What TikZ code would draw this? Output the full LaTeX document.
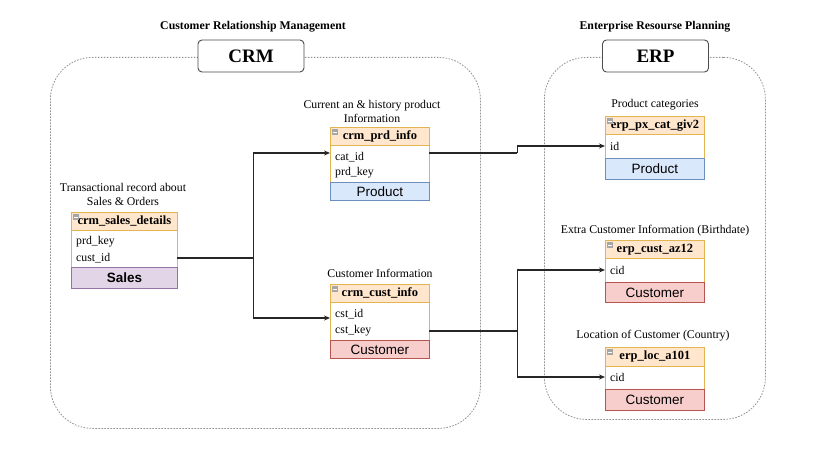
\documentclass[tikz,border=0pt]{standalone}
\usepackage{fontspec}
\setmainfont{Liberation Serif}
\setsansfont{Liberation Sans}
\usetikzlibrary{arrows.meta,calc}
\definecolor{hdrfill}{HTML}{FFE6CC}
\definecolor{tline}{HTML}{E3B552}
\definecolor{salesfill}{HTML}{E1D5E7}
\definecolor{salesline}{HTML}{9673A6}
\definecolor{prodfill}{HTML}{DAE8FC}
\definecolor{prodline}{HTML}{6C8EBF}
\definecolor{custfill}{HTML}{F8CECC}
\definecolor{custline}{HTML}{B85450}
\tikzset{
  cont/.style={draw=gray!85, dash pattern=on 1.6pt off 1.4pt, line width=0.8pt, rounded corners=42pt, anchor=north west, inner sep=0},
  sysbox/.style={draw=black!70, fill=white, rounded corners=4pt, line width=0.9pt, minimum width=106pt, minimum height=32pt, inner sep=0, font=\bfseries\fontsize{19}{22}\selectfont},
  ttl/.style={font=\bfseries\fontsize{11.8}{13}\selectfont, inner sep=0},
  lbl/.style={font=\fontsize{11.8}{14}\selectfont, align=center, inner sep=0},
  tbody/.style={draw=tline, fill=white, line width=0.8pt, anchor=north west, inner sep=0},
  hdr/.style={draw=tline, fill=hdrfill, line width=0.8pt, anchor=north west, minimum height=18pt, inner sep=0, font=\bfseries\fontsize{12.5}{13}\selectfont},
  row/.style={anchor=west, inner xsep=5pt, inner ysep=0, minimum height=16pt, align=left, font=\fontsize{11.8}{13}\selectfont},
  foot/.style={anchor=north west, inner sep=0, line width=0.8pt, font=\sffamily\fontsize{13.5}{15}\selectfont},
  conn/.style={draw=black!85, line width=1.2pt, -{Stealth[length=6pt,width=5pt]}},
  line/.style={draw=black!85, line width=1.2pt}
}
\newcommand\minusicon[2]{\fill[gray!70] (#1+2,#2+2) rectangle (#1+8,#2+8); \draw[white, line width=0.6pt] (#1+3.2,#2+5) -- (#1+6.8,#2+5);}
\begin{document}
\begin{tikzpicture}[x=1pt,y=-1pt]
\useasboundingbox[fill=white] (0,0) rectangle (827,460);

% containers
\node[cont, minimum width=430pt, minimum height=371pt] (crm) at (50,57) {};
\node[cont, minimum width=221pt, minimum height=362pt] (erp) at (544,57) {};
\node[sysbox] (crmbox) at (251,56) {CRM};
\node[sysbox] (erpbox) at (655.5,56) {ERP};
\node[ttl] (crmt) at (253,27) {Customer Relationship Management};
\node[ttl] (erpt) at (655,27) {Enterprise Resourse Planning};

% crm_sales_details
\node[lbl] (salesl) at (123,194) {Transactional record about\\Sales \& Orders};
\node[tbody, minimum width=106pt, minimum height=55pt] (sales) at (71,212) {};
\node[hdr, minimum width=106pt] (salesh) at (71,212) {crm\_sales\_details};
\minusicon{71}{212}
\node[row, text width=96pt] (salesr1) at (71,242) {prd\_key};
\node[row, text width=96pt] (salesr2) at (71,258) {cust\_id};
\node[foot, fill=salesfill, draw=salesline, minimum width=106pt, minimum height=21pt] (salesf) at (71,267) {\textbf{Sales}};

% crm_prd_info
\node[lbl] (prdl) at (372,111) {Current an \& history product\\Information};
\node[tbody, minimum width=99pt, minimum height=55pt] (prd) at (330,127) {};
\node[hdr, minimum width=99pt] (prdh) at (330,127) {crm\_prd\_info};
\minusicon{330}{127}
\node[row, text width=89pt] (prdr1) at (330,157) {cat\_id};
\node[row, text width=89pt] (prdr2) at (330,173) {prd\_key};
\node[foot, fill=prodfill, draw=prodline, minimum width=99pt, minimum height=18pt] (prdf) at (330,182) {Product};

% crm_cust_info
\node[lbl] (custl) at (380,273) {Customer Information};
\node[tbody, minimum width=99pt, minimum height=56pt] (cust) at (330,284) {};
\node[hdr, minimum width=99pt] (custh) at (330,284) {crm\_cust\_info};
\minusicon{330}{284}
\node[row, text width=89pt] (custr1) at (330,314) {cst\_id};
\node[row, text width=89pt] (custr2) at (330,331) {cst\_key};
\node[foot, fill=custfill, draw=custline, minimum width=99pt, minimum height=18pt] (custf) at (330,340) {Customer};

% erp_px_cat_giv2
\node[lbl] (pxl) at (655,105) {Product categories};
\node[tbody, minimum width=99pt, minimum height=42pt] (px) at (605,116) {};
\node[hdr, minimum width=99pt] (pxh) at (605,116) {erp\_px\_cat\_giv2};
\minusicon{605}{116}
\node[row, text width=89pt] (pxr1) at (605,146) {id};
\node[foot, fill=prodfill, draw=prodline, minimum width=99pt, minimum height=21pt] (pxf) at (605,158) {Product};

% erp_cust_az12
\node[lbl] (azl) at (655,231) {Extra Customer Information (Birthdate)};
\node[tbody, minimum width=99pt, minimum height=42pt] (az) at (605,240) {};
\node[hdr, minimum width=99pt] (azh) at (605,240) {erp\_cust\_az12};
\minusicon{605}{240}
\node[row, text width=89pt] (azr1) at (605,270) {cid};
\node[foot, fill=custfill, draw=custline, minimum width=99pt, minimum height=20pt] (azf) at (605,282) {Customer};

% erp_loc_a101
\node[lbl] (locl) at (653,336) {Location of Customer (Country)};
\node[tbody, minimum width=99pt, minimum height=42pt] (loc) at (605,347) {};
\node[hdr, minimum width=99pt, minimum height=19pt] (loch) at (605,347) {erp\_loc\_a101};
\minusicon{605}{347}
\node[row, text width=89pt] (locr1) at (605,377) {cid};
\node[foot, fill=custfill, draw=custline, minimum width=99pt, minimum height=21pt] (locf) at (605,389) {Customer};

% connectors
\coordinate (j1) at ($(salesr2.east)+(76,0)$);
\draw[line] (salesr2.east) -- (j1);
\draw[conn] (j1) |- ($(prdr1.west)+(0,-4)$);
\draw[conn] (j1) |- ($(custr1.west)+(0,4)$);
\coordinate (j2) at ($(prdr1.east)+(88,-4)$);
\draw[line] ($(prdr1.east)+(0,-4)$) -- (j2);
\draw[conn] (j2) |- (pxr1.west);
\coordinate (j3) at ($(custr2.east)+(88,0)$);
\draw[line] (custr2.east) -- (j3);
\draw[conn] (j3) |- (azr1.west);
\draw[conn] (j3) |- (locr1.west);
\end{tikzpicture}
\end{document}
